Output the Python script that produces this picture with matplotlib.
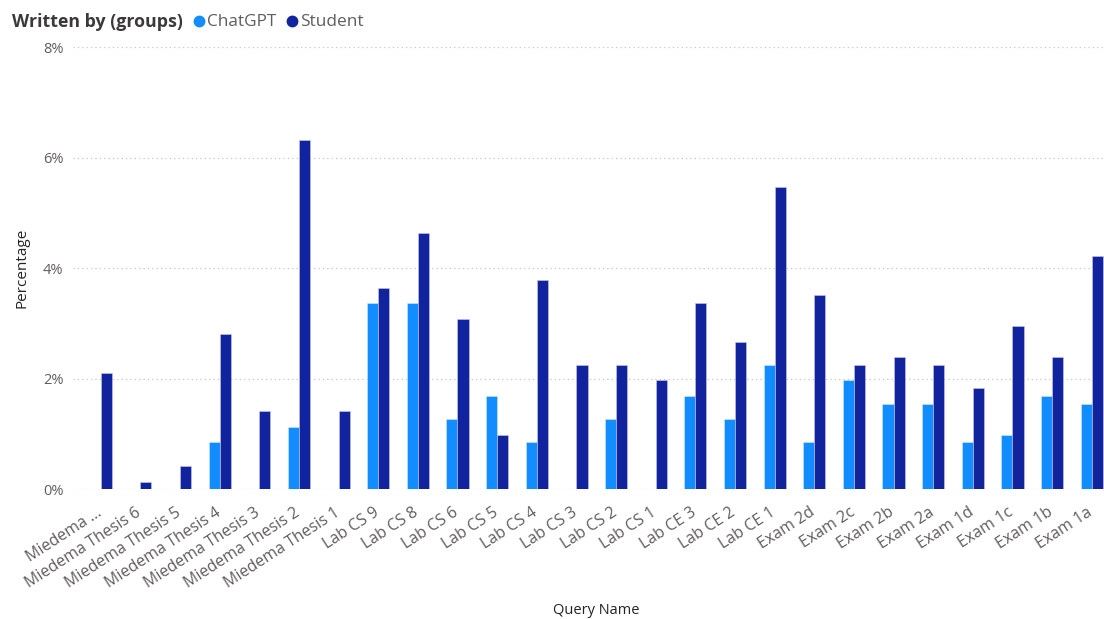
import matplotlib
matplotlib.use("Agg")
import matplotlib.pyplot as plt
from matplotlib.lines import Line2D
from matplotlib.ticker import FuncFormatter
from matplotlib.transforms import ScaledTranslation
import numpy as np

plt.rcParams['font.family'] = ['Open Sans', 'DejaVu Sans']

categories = ["Miedema ...", "Miedema Thesis 6", "Miedema Thesis 5", "Miedema Thesis 4",
              "Miedema Thesis 3", "Miedema Thesis 2", "Miedema Thesis 1", "Lab CS 9",
              "Lab CS 8", "Lab CS 6", "Lab CS 5", "Lab CS 4", "Lab CS 3", "Lab CS 2",
              "Lab CS 1", "Lab CE 3", "Lab CE 2", "Lab CE 1", "Exam 2d", "Exam 2c",
              "Exam 2b", "Exam 2a", "Exam 1d", "Exam 1c", "Exam 1b", "Exam 1a"]
chatgpt = [0, 0, 0, 0.85, 0, 1.13, 0, 3.37, 3.37, 1.27, 1.69, 0.85, 0, 1.27, 0,
           1.69, 1.27, 2.25, 0.85, 1.97, 1.55, 1.55, 0.85, 0.99, 1.69, 1.55]
student = [2.11, 0.14, 0.42, 2.81, 1.41, 6.32, 1.41, 3.65, 4.64, 3.09, 0.99, 3.79,
           2.25, 2.25, 1.97, 3.37, 2.67, 5.48, 3.51, 2.25, 2.39, 2.25, 1.83, 2.95,
           2.39, 4.22]
yticks = [0, 2, 4, 6, 8]

C_GPT = '#118DFF'
C_STU = '#12239E'
TXT = '#605E5C'
DARK = '#252423'

W, H = 1104, 619
fig = plt.figure(figsize=(W / 100, H / 100), dpi=100)
ax = fig.add_axes([73 / W, 1 - 489.3 / H, (W - 73) / W, (489.3 - 47.3) / H])

x = np.arange(len(categories))
bw = 0.28
ax.bar(x - bw / 2, chatgpt, width=bw, color=C_GPT, edgecolor='#d6e6fb', linewidth=0.4, zorder=3)
ax.bar(x + bw / 2, student, width=bw, color=C_STU, edgecolor='#c9cbe6', linewidth=0.4, zorder=3)

ax.set_xlim(-0.70, 25.31)
ax.set_ylim(0, 8)
ax.set_yticks(yticks)
ax.yaxis.set_major_formatter(FuncFormatter(lambda v, p: f"{v:.0f}%"))
ax.grid(axis='y', linestyle=(0, (1, 2.5)), color='#c8c6c4', linewidth=0.9, zorder=0)
ax.set_axisbelow(True)
for s in ax.spines.values():
    s.set_visible(False)
ax.tick_params(axis='both', length=0)
ax.tick_params(axis='y', labelsize=10.5, labelcolor=TXT, pad=7)

ax.set_xticks(x)
ax.set_xticklabels(categories, rotation=33, ha='right', rotation_mode='anchor',
                   fontsize=11.5, color=TXT)
ax.tick_params(axis='x', pad=11)
shift = ScaledTranslation(-5 / 100, 0, fig.dpi_scale_trans)
for lab in ax.get_xticklabels():
    lab.set_transform(lab.get_transform() + shift)

fig.text(22 / W, 1 - 268 / H, "Percentage", rotation=90, ha='center', va='center',
         fontsize=11, color=DARK)
fig.text(596 / W, 1 - 611 / H, "Query Name", ha='center', va='center',
         fontsize=10.5, color=DARK)

# legend
fig.text(12 / W, 1 - 22 / H, "Written by (groups)", ha='left', va='center',
         fontsize=12.8, fontweight='bold', color='#3b3a39')
fig.add_artist(Line2D([199 / W], [1 - 21 / H], marker='o', markersize=7.5,
                      color=C_GPT, transform=fig.transFigure, linestyle='none'))
fig.text(207 / W, 1 - 22 / H, "ChatGPT", ha='left', va='center', fontsize=12.4, color=TXT)
fig.add_artist(Line2D([292 / W], [1 - 21 / H], marker='o', markersize=7.5,
                      color=C_STU, transform=fig.transFigure, linestyle='none'))
fig.text(300 / W, 1 - 22 / H, "Student", ha='left', va='center', fontsize=12.4, color=TXT)

fig.savefig("out.png", dpi=100, facecolor='white')
